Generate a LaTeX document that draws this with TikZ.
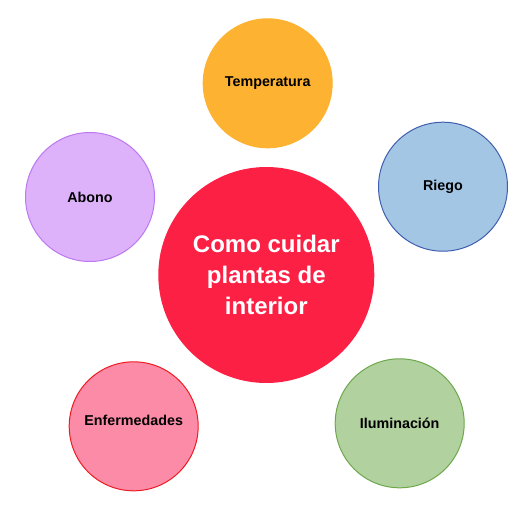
\documentclass[tikz,border=0pt]{standalone}
\usepackage{fontspec}
\setmainfont{Liberation Sans}
\usetikzlibrary{positioning}

\definecolor{centerred}{HTML}{FC2045}
\definecolor{tempfill}{HTML}{FEB231}
\definecolor{riegofill}{HTML}{A4C6E5}
\definecolor{riegoline}{HTML}{3F5EAE}
\definecolor{abonofill}{HTML}{DEB2FB}
\definecolor{abonoline}{HTML}{BC78F0}
\definecolor{enffill}{HTML}{FB8BA7}
\definecolor{enfline}{HTML}{EE1C22}
\definecolor{ilumfill}{HTML}{B1D19F}
\definecolor{ilumline}{HTML}{6EA84D}

\begin{document}
\begin{tikzpicture}[x=1pt, y=-1pt,
  topic/.style={circle, draw, line width=1pt, minimum size=129pt, inner sep=0pt, font=\bfseries\fontsize{14.3}{16}\selectfont}]
\useasboundingbox (0,0) rectangle (524,514);

% Center
\node[circle, fill=centerred, minimum size=216pt, inner sep=0pt, text=white, align=center,
  font=\bfseries\fontsize{24}{31}\selectfont] (center) at (266.3,275) {Como cuidar\\plantas de\\interior};

% Topics
\node[topic, fill=tempfill, draw=tempfill] (temp) at (267.7,83.3) {Temperatura};
\node[topic, fill=riegofill, draw=riegoline] (riego) at (443,186.7) {Riego};
\node[topic, fill=abonofill, draw=abonoline] (abono) at (90,197) {Abono};
\node[topic, fill=enffill, draw=enfline, text depth=12pt] (enf) at (133.7,426.3) {Enfermedades};
\node[topic, fill=ilumfill, draw=ilumline] (ilum) at (399.7,423.3) {Iluminación};
\end{tikzpicture}
\end{document}
